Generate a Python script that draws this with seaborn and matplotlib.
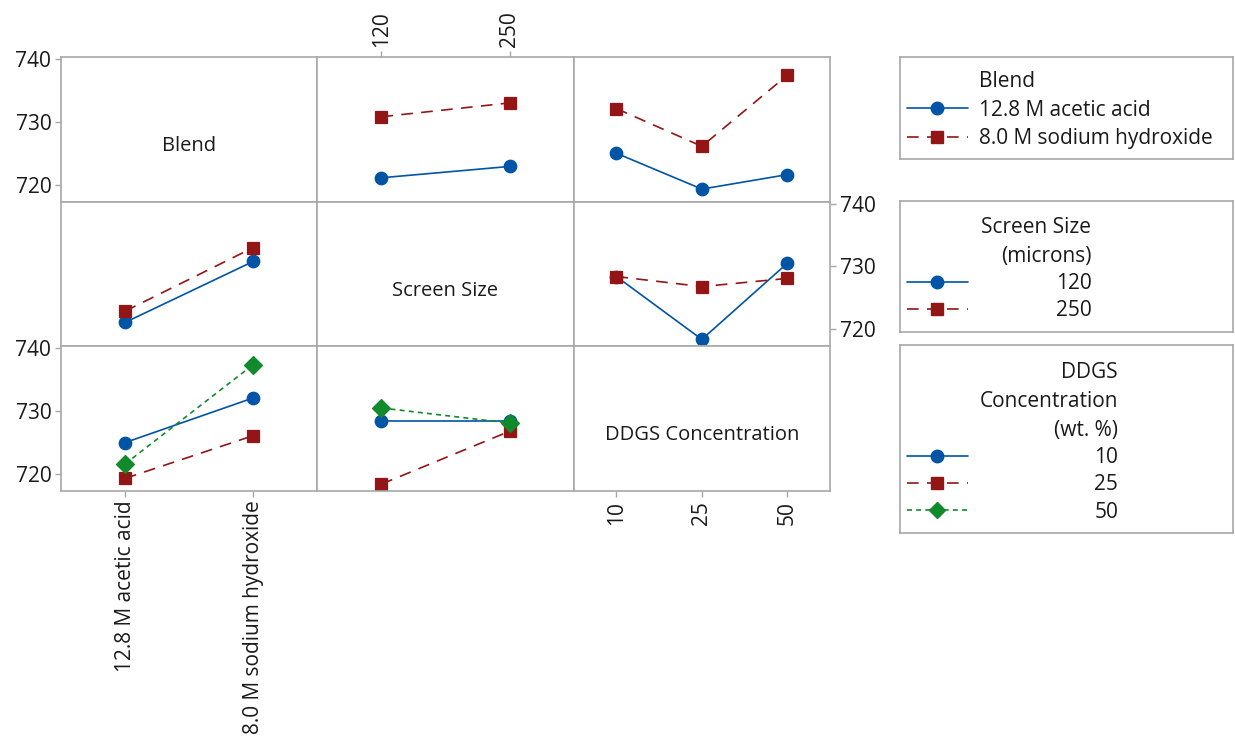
import numpy as np
import pandas as pd
import matplotlib
matplotlib.use("Agg")
import matplotlib.pyplot as plt
from matplotlib.lines import Line2D
import seaborn as sns

blend_levels = ["12.8 M acetic acid", "8.0 M sodium hydroxide"]
screen_levels = ["120", "250"]
ddgs_levels = ["10", "25", "50"]

# cell means, Blend x Screen Size
acetic_by_screen = [721.1, 722.9]
naoh_by_screen = [730.8, 733.0]
# Blend x DDGS Concentration
acetic_by_ddgs = [725.0, 719.3, 721.6]
naoh_by_ddgs = [732.1, 726.1, 737.4]
# Screen Size x DDGS Concentration
s120_by_ddgs = [728.4, 718.4, 730.5]
s250_by_ddgs = [728.4, 726.8, 728.1]

diag_names = ["Blend", "Screen Size", "DDGS Concentration"]

bs = pd.DataFrame({"Blend": np.repeat(blend_levels, 2),
                   "Screen": screen_levels * 2,
                   "Y": acetic_by_screen + naoh_by_screen})
bd = pd.DataFrame({"Blend": np.repeat(blend_levels, 3),
                   "DDGS": ddgs_levels * 2,
                   "Y": acetic_by_ddgs + naoh_by_ddgs})
sd = pd.DataFrame({"Screen": np.repeat(screen_levels, 3),
                   "DDGS": ddgs_levels * 2,
                   "Y": s120_by_ddgs + s250_by_ddgs})

factors = ["Blend", "Screen", "DDGS"]
levels = {"Blend": blend_levels, "Screen": screen_levels, "DDGS": ddgs_levels}
tables = {frozenset(("Blend", "Screen")): bs,
          frozenset(("Blend", "DDGS")): bd,
          frozenset(("Screen", "DDGS")): sd}

colors = ["#0054A6", "#931515", "#118A2B"]
markers = ["o", "s", "D"]
lstyles = ["-", (0, (7, 5)), (0, (3, 2.5))]
msizes = [9, 8.5, 8]

sns.set_theme(style="white")
plt.rcParams["font.family"] = ["Open Sans", "DejaVu Sans"]
plt.rcParams["text.color"] = "#1a1a1a"
grey = "#a8a8a8"
FS = 15

fig = plt.figure(figsize=(12.35, 7.40), dpi=100)
W, H = 1235, 740
axes = fig.subplots(3, 3, gridspec_kw=dict(left=61 / W, right=830 / W, top=1 - 57 / H,
                                           bottom=1 - 491 / H, wspace=0, hspace=0))

for r in range(3):
    for c in range(3):
        ax = axes[r, c]
        xf = factors[c]
        if r != c:
            hf = factors[r]
            n = len(levels[hf])
            sns.pointplot(data=tables[frozenset((xf, hf))], x=xf, y="Y", hue=hf,
                          order=levels[xf], hue_order=levels[hf],
                          palette=colors[:n], markers=markers[:n], linestyles=lstyles[:n],
                          errorbar=None, legend=False, ax=ax,
                          markersize=9, linewidth=1.2)
        else:
            ax.text(0.5, 0.385, diag_names[r], transform=ax.transAxes,
                    ha="center", va="center", fontsize=14.5)
        ax.set_xlim(-0.5, len(levels[xf]) - 0.5)
        ax.set_ylim(717.3, 740.3)
        ax.set_xlabel("")
        ax.set_ylabel("")
        ax.set_yticks([720, 730, 740])
        ax.set_xticks(range(len(levels[xf])))
        ax.set_xticklabels(levels[xf])
        for sp in ax.spines.values():
            sp.set_color(grey)
            sp.set_linewidth(1.2)
        ax.tick_params(left=False, bottom=False, labelleft=False, labelbottom=False,
                       length=4, width=1, color=grey, labelsize=FS, labelcolor="#1a1a1a")

# Minitab-style alternating axes
for ax in (axes[0, 0], axes[2, 0]):
    ax.tick_params(left=True, labelleft=True, pad=3)
axes[1, 2].tick_params(right=True, labelright=True, pad=3)
axes[0, 1].tick_params(top=True, labeltop=True, labelrotation=90, axis="x", pad=3)
for ax in (axes[2, 0], axes[2, 2]):
    ax.tick_params(axis="x", bottom=True, labelbottom=True, labelrotation=90, pad=3)

# legend boxes
def legend_box(y0, y1):
    lax = fig.add_axes([900 / W, 1 - y1 / H, 333 / W, (y1 - y0) / H])
    lax.set_xticks([])
    lax.set_yticks([])
    for sp in lax.spines.values():
        sp.set_color(grey)
        sp.set_linewidth(1.2)
    return lax

def handle(i):
    return Line2D([], [], color=colors[i], marker=markers[i], linestyle=lstyles[i],
                  lw=1.2, markersize=msizes[i])

blank = Line2D([], [], color="none")
common = dict(loc="upper left", frameon=False, fontsize=FS, handlelength=2.95,
              borderpad=0, borderaxespad=0)

lax = legend_box(57, 159)
lax.legend([blank, handle(0), handle(1)], ["Blend"] + blend_levels,
           bbox_to_anchor=(0.02, 0.86), handletextpad=0.5, labelspacing=0.36, **common)

lax = legend_box(201, 332)
leg = lax.legend([handle(0), handle(1)], screen_levels, title="Screen Size\n(microns)",
                 alignment="right", bbox_to_anchor=(0.02, 0.88), title_fontsize=FS,
                 handletextpad=4.2, labelspacing=0.3, **common)
leg.get_title().set_multialignment("right")
leg.get_title().set_linespacing(1.5)

lax = legend_box(345, 533)
leg = lax.legend([handle(0), handle(1), handle(2)], ddgs_levels,
                 title="DDGS\nConcentration\n(wt. %)", alignment="right",
                 bbox_to_anchor=(0.02, 0.91), title_fontsize=FS,
                 handletextpad=6.05, labelspacing=0.3, **common)
leg.get_title().set_multialignment("right")
leg.get_title().set_linespacing(1.5)

fig.savefig("out.png", dpi=100)
